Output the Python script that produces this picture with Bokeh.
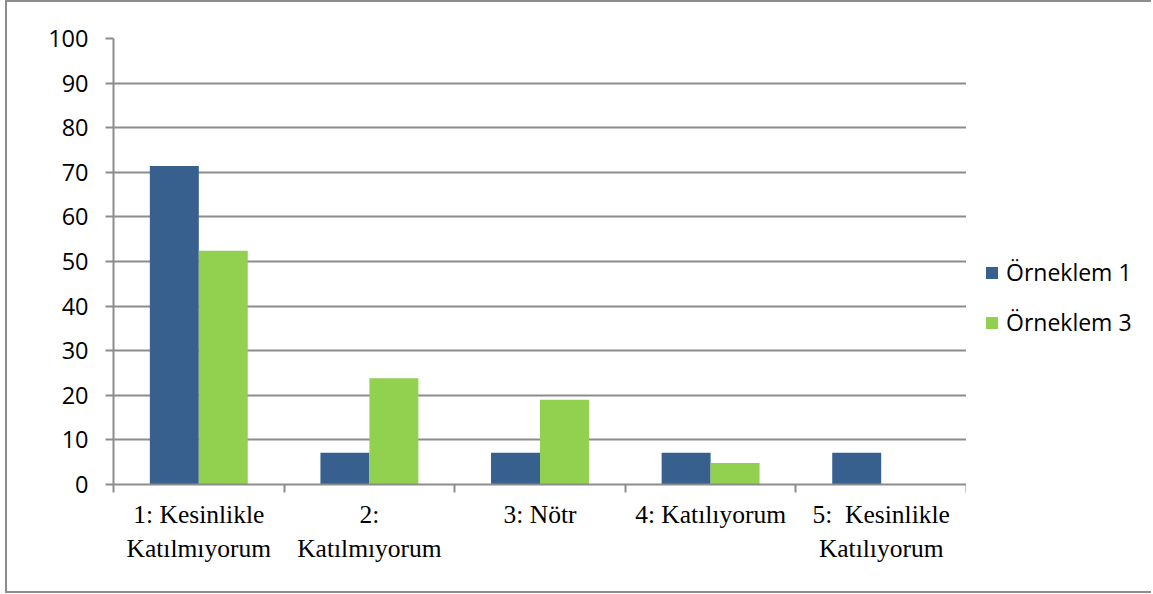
from bokeh.plotting import figure
from bokeh.layouts import row
from bokeh.models import ColumnDataSource, FixedTicker, Legend, LegendItem, Range1d
from bokeh.embed import file_html
from bokeh.resources import INLINE

# ---- data ----
categories = ["1: Kesinlikle\nKatılmıyorum", "2:\nKatılmıyorum", "3: Nötr",
              "4: Katılıyorum", "5:\u00a0 Kesinlikle\nKatılıyorum"]
series_names = ["Örneklem 1", "Örneklem 3"]
orneklem1 = [71.4, 7.1, 7.1, 7.1, 7.1]
orneklem3 = [52.4, 23.8, 19.0, 4.8, 0.0]
y_ticks = [0, 10, 20, 30, 40, 50, 60, 70, 80, 90, 100]

BLUE = "#37608F"
GREEN = "#92D050"
GRAY = "#8C8C8C"
BAR_W = 0.287

centers = [i + 0.5 for i in range(len(categories))]
src = ColumnDataSource(dict(
    x1=[c - BAR_W / 2 for c in centers],
    x3=[c + BAR_W / 2 for c in centers],
    v1=orneklem1,
    v3=orneklem3,
))

H = 589
p = figure(width=959, height=H, output_backend="svg", toolbar_location=None,
           x_range=Range1d(0, len(categories)), y_range=Range1d(0, 100),
           min_border_left=106, min_border_right=0,
           min_border_top=36, min_border_bottom=107)
p.outline_line_color = None
p.background_fill_color = "white"
p.border_fill_color = "white"

r1 = p.vbar(x="x1", top="v1", width=BAR_W, bottom=0, source=src,
            fill_color=BLUE, line_color=None)
r3 = p.vbar(x="x3", top="v3", width=BAR_W, bottom=0, source=src,
            fill_color=GREEN, line_color=None)

# x axis: labels centred in each category, ticks at the boundaries
p.xaxis.ticker = FixedTicker(ticks=centers,
                             minor_ticks=list(range(len(categories) + 1)))
p.xaxis.major_label_overrides = {c: lab for c, lab in zip(centers, categories)}
p.xaxis.major_tick_out = 0
p.xaxis.major_tick_in = 0
p.xaxis.minor_tick_out = 8
p.xaxis.minor_tick_in = 0
p.xaxis.minor_tick_line_color = GRAY
p.xaxis.minor_tick_line_width = 2
p.xaxis.axis_line_color = GRAY
p.xaxis.axis_line_width = 2
p.xaxis.major_label_text_font = "Liberation Serif"
p.xaxis.major_label_text_font_size = "25.5px"
p.xaxis.major_label_text_color = "black"
p.xaxis.major_label_standoff = 7
p.xaxis.major_label_orientation = "horizontal"
p.xgrid.grid_line_color = None

# y axis
p.yaxis.ticker = FixedTicker(ticks=y_ticks)
p.yaxis.major_tick_out = 8
p.yaxis.major_tick_in = 0
p.yaxis.minor_tick_line_color = None
p.yaxis.major_tick_line_color = GRAY
p.yaxis.major_tick_line_width = 2
p.yaxis.axis_line_color = GRAY
p.yaxis.axis_line_width = 2
p.yaxis.major_label_text_font = "Open Sans"
p.yaxis.major_label_text_font_size = "23.5px"
p.yaxis.major_label_text_color = "black"
p.yaxis.major_label_standoff = 17
p.ygrid.grid_line_color = GRAY
p.ygrid.grid_line_width = 2

# legend area (separate canvas to the right of the plot area)
q = figure(width=185, height=H, output_backend="svg", toolbar_location=None,
           x_range=Range1d(0, 1), y_range=Range1d(0, 1),
           min_border_left=0, min_border_right=0,
           min_border_top=0, min_border_bottom=0)
q.axis.visible = False
q.grid.visible = False
q.outline_line_color = None
q.background_fill_color = "white"
q.border_fill_color = "white"
# same series, not drawn here: they only supply the legend swatches
k1 = q.vbar(x="x1", top="v1", width=BAR_W, source=src,
            fill_color=BLUE, line_color=None, visible=False)
k3 = q.vbar(x="x3", top="v3", width=BAR_W, source=src,
            fill_color=GREEN, line_color=None, visible=False)

legend = Legend(items=[LegendItem(label=series_names[0], renderers=[k1]),
                       LegendItem(label=series_names[1], renderers=[k3])],
                location=(18, 146), orientation="vertical",
                border_line_color=None, background_fill_alpha=0,
                padding=0, margin=0, spacing=18,
                glyph_width=15, glyph_height=15, label_height=30,
                label_standoff=7, click_policy="none",
                inactive_fill_alpha=0,
                label_text_font="Open Sans", label_text_font_size="23px",
                label_text_color="black")
q.add_layout(legend, "center")

lay = row(p, q)
lay.styles = {"margin-left": "5px",
              "border-left": f"2px solid {GRAY}",
              "border-top": f"2px solid {GRAY}",
              "border-bottom": f"2px solid {GRAY}",
              "box-sizing": "content-box"}

open("out.html", "w").write(file_html(lay, INLINE))
